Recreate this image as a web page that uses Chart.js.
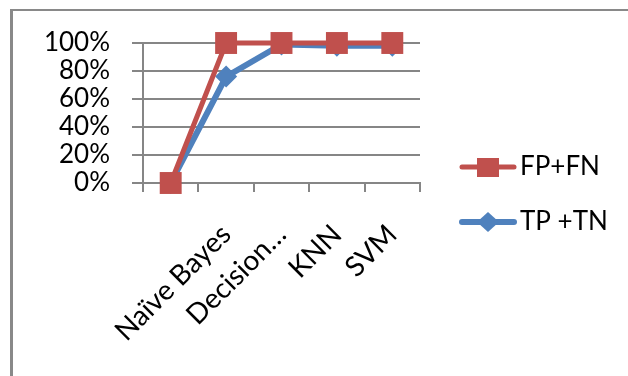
<!DOCTYPE html>
<html><head><meta charset="utf-8">
<script src="https://cdn.jsdelivr.net/npm/chart.js@4.4.1/dist/chart.umd.min.js"></script>
<style>
html,body{margin:0;padding:0;background:#fff;}
#wrap{position:relative;width:628px;height:376px;overflow:hidden;background:#fff;}
#frame{position:absolute;left:10px;top:9px;width:700px;height:500px;border-left:3px solid #898989;border-top:2px solid #898989;}
canvas{position:absolute;left:0;top:0;}
</style></head><body>
<div id="wrap"><div id="frame"></div><canvas id="c" width="628" height="376" style="width:628px;height:376px"></canvas></div>
<script>
const categories = ['', 'Naïve Bayes', 'Decision…', 'KNN', 'SVM'];
const seriesNames = ['FP+FN', 'TP +TN'];
const fpFn = [0, 100, 100, 100, 100];
const tpTn = [0, 76, 99, 98, 98];
const yTicks = [0, 20, 40, 60, 80, 100];

const RED = '#C0504D', BLUE = '#4F81BD', GRID = '#868686';
const FONT = 'Lato, "Open Sans", sans-serif';
const LEGEND_W = 208;

function legendImg(color, shape, lw) {
  const c = document.createElement('canvas');
  c.width = 78; c.height = 26;
  const g = c.getContext('2d');
  g.strokeStyle = color; g.lineWidth = lw; g.lineCap = 'round';
  g.beginPath(); g.moveTo(23, 13); g.lineTo(75, 13); g.stroke();
  g.fillStyle = color;
  if (shape === 'square') {
    g.fillRect(38, 4, 22, 19);
  } else {
    g.beginPath(); g.moveTo(49, 3); g.lineTo(60, 13); g.lineTo(49, 23); g.lineTo(38, 13); g.closePath(); g.fill();
  }
  return c;
}
const legendImgs = [legendImg(RED, 'square', 5), legendImg(BLUE, 'diamond', 6)];

const legendFit = {
  id: 'legendFit',
  beforeLayout(chart) {
    const lg = chart.legend;
    if (lg && !lg.__patched) {
      const f = lg.fit;
      lg.fit = function () { f.call(this); this.width = LEGEND_W; };
      lg.__patched = true;
    }
  }
};

new Chart(document.getElementById('c'), {
  type: 'line',
  plugins: [legendFit],
  data: {
    labels: categories,
    datasets: [
      { label: seriesNames[0], data: fpFn, borderColor: RED, backgroundColor: RED, borderWidth: 5, clip: false,
        pointStyle: 'rect', pointRadius: 15.5, pointBackgroundColor: RED, pointBorderColor: RED, pointBorderWidth: 0, tension: 0 },
      { label: seriesNames[1], data: tpTn, borderColor: BLUE, backgroundColor: BLUE, borderWidth: 6, clip: false,
        pointStyle: 'rectRot', pointRadius: 11, pointBackgroundColor: BLUE, pointBorderColor: BLUE, pointBorderWidth: 0, tension: 0 }
    ]
  },
  options: {
    responsive: false,
    animation: false,
    layout: { padding: { left: 0, top: 43, right: 0, bottom: 30 } },
    plugins: {
      tooltip: { enabled: false },
      legend: {
        position: 'right',
        align: 'center',
        labels: {
          usePointStyle: true,
          pointStyleWidth: 58,
          padding: 29,
          color: '#000',
          font: { family: FONT, size: 26 },
          generateLabels(chart) {
            const items = Chart.defaults.plugins.legend.labels.generateLabels(chart);
            items.forEach((it, i) => { it.pointStyle = legendImgs[i]; });
            return items;
          }
        }
      }
    },
    scales: {
      x: {
        offset: true,
        afterFit(scale) { scale.height = 376 - 30 - 183; },
        grid: { display: true, drawOnChartArea: false, offset: true, color: GRID, lineWidth: 2, tickLength: 9 },
        border: { display: true, color: GRID, width: 2 },
        ticks: { color: '#000', font: { family: FONT, size: 28 }, minRotation: 45, maxRotation: 45, padding: 26, autoSkip: false }
      },
      y: {
        min: 0, max: 100,
        afterFit(scale) { scale.width = 143; },
        afterBuildTicks(scale) { scale.ticks = yTicks.map(v => ({ value: v })); },
        grid: { color: GRID, lineWidth: 2, tickLength: 11 },
        border: { display: true, color: GRID, width: 2 },
        ticks: { color: '#000', font: { family: FONT, size: 26 }, padding: 22, autoSkip: false, callback: v => v + '%' }
      }
    }
  }
});
</script>
</body></html>
